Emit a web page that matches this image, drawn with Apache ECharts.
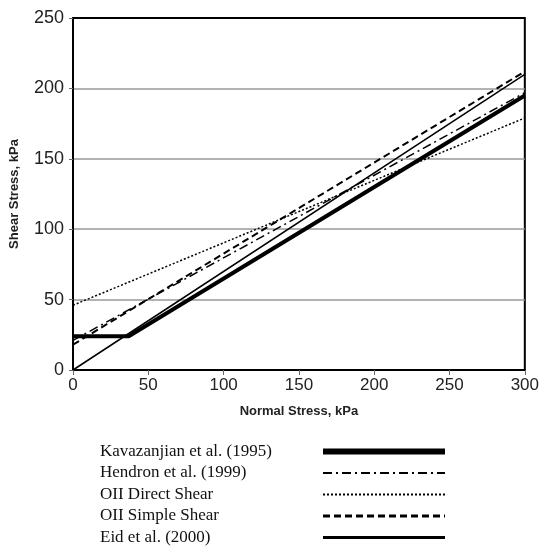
<!DOCTYPE html>
<html>
<head>
<meta charset="utf-8">
<script src="https://cdn.jsdelivr.net/npm/echarts@6/dist/echarts.min.js"></script>
<style>html,body{margin:0;padding:0;background:#fff}#c{width:542px;height:546px}</style>
</head>
<body>
<div id="c"></div>
<script>
// Data (Normal stress kPa, Shear stress kPa)
const seriesNames = ['Kavazanjian et al. (1995)', 'Hendron et al. (1999)', 'OII Direct Shear', 'OII Simple Shear', 'Eid et al. (2000)'];
const kavazanjian = [[0, 24], [37, 24], [300, 195]];
const hendron = [[0, 21], [300, 197]];
const oiiDirect = [[0, 46], [300, 179]];
const oiiSimple = [[0, 18], [300, 212]];
const eid = [[0, 0], [300, 210]];
const xTicks = [0, 50, 100, 150, 200, 250, 300];
const yTicks = [0, 50, 100, 150, 200, 250];

const styles = [
  {width: 4, type: 'solid', legendWidth: 6},
  {width: 1.5, type: [9, 4, 2, 4], legendWidth: 2},
  {width: 1.5, type: [2, 2], legendWidth: 2},
  {width: 2, type: [7, 4], legendWidth: 3},
  {width: 1.5, type: 'solid', legendWidth: 3}
];
const datasets = [kavazanjian, hendron, oiiDirect, oiiSimple, eid];

const chart = echarts.init(document.getElementById('c'), null, {renderer: 'canvas'});
chart.setOption({
  animation: false,
  backgroundColor: '#fff',
  grid: {left: 72, right: 15, top: 18, bottom: 176, show: true, borderColor: '#000', borderWidth: 2, backgroundColor: 'transparent'},
  xAxis: {
    type: 'value', min: 0, max: 300, interval: 50,
    name: 'Normal Stress, kPa', nameLocation: 'middle', nameGap: 35,
    nameTextStyle: {fontFamily: 'Liberation Sans', fontWeight: 'bold', fontSize: 13, color: '#222'},
    axisLine: {show: true, lineStyle: {color: '#000', width: 2}},
    axisTick: {show: true, inside: false, length: 5, lineStyle: {color: '#666'}},
    axisLabel: {fontFamily: 'Liberation Sans', fontSize: 17, color: '#222', margin: 7},
    splitLine: {show: false}
  },
  yAxis: {
    type: 'value', min: 0, max: 250, interval: 50,
    name: 'Shear Stress, kPa', nameLocation: 'middle', nameGap: 52, nameRotate: 90,
    nameTextStyle: {fontFamily: 'Liberation Sans', fontWeight: 'bold', fontSize: 13, color: '#222'},
    axisLine: {show: true, lineStyle: {color: '#000', width: 2}},
    axisTick: {show: true, inside: false, length: 4, lineStyle: {color: '#666'}},
    axisLabel: {fontFamily: 'Liberation Sans', fontSize: 18, color: '#222', margin: 9},
    splitLine: {show: true, lineStyle: {color: ['#000', '#999', '#999', '#999', '#999', '#000'], width: 1.5}}
  },
  legend: {
    orient: 'vertical', left: 100, top: 443, itemGap: 4.5, align: 'right', padding: 0,
    itemWidth: 122, itemHeight: 16,
    formatter: '{t|{name}}',
    itemStyle: {color: 'rgba(0,0,0,0)', borderWidth: 0, opacity: 0},
    textStyle: {fontFamily: 'Liberation Serif', fontSize: 17, color: '#111',
      rich: {t: {width: 218, fontFamily: 'Liberation Serif', fontSize: 17, color: '#111', align: 'left'}}},
    data: seriesNames.map((n, i) => ({name: n, lineStyle: {width: styles[i].legendWidth}}))
  },
  series: datasets.map((d, i) => ({
    name: seriesNames[i], type: 'line', data: d, symbol: 'none', showSymbol: false,
    lineStyle: {color: '#000', width: styles[i].width, type: styles[i].type},
    itemStyle: {color: '#000'},
    z: 3 + i
  }))
});
</script>
</body>
</html>
